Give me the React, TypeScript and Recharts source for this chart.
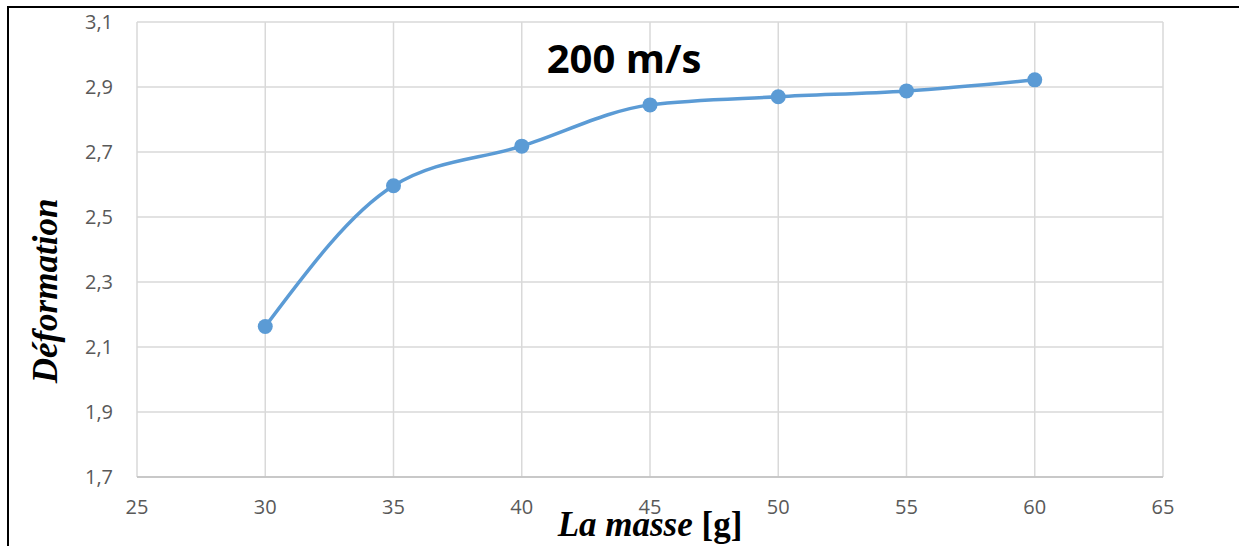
import React from 'react';
import { LineChart, Line, XAxis, YAxis, CartesianGrid } from 'recharts';

const masses = [30, 35, 40, 45, 50, 55, 60];
const deformation = [2.163, 2.596, 2.718, 2.845, 2.87, 2.888, 2.922];
const xTicks = [25, 30, 35, 40, 45, 50, 55, 60, 65];
const yTicks = [1.7, 1.9, 2.1, 2.3, 2.5, 2.7, 2.9, 3.1];
const title = '200 m/s';
const yLabel = 'Déformation';
const xLabelItalic = 'La masse';
const xLabelUnit = '[g]';

const data = masses.map((m, i) => ({ m, d: deformation[i] }));

const fmt = (v: number) => v.toFixed(v % 1 === 0 ? 0 : 1).replace('.', ',');

export default function App() {
  const tickStyle = { fill: '#595959', fontSize: 20, fontFamily: '"Open Sans", sans-serif' };
  return (
    <div style={{ position: 'fixed', left: 0, top: 0, width: 1239, height: 546, background: '#fff', overflow: 'hidden' }}>
      <LineChart width={1239} height={546} data={data} margin={{ top: 22, right: 76, bottom: 29, left: 77 }}>
        <CartesianGrid stroke="#d9d9d9" strokeWidth={1.5} verticalValues={xTicks} horizontalValues={yTicks} />
        <XAxis
          dataKey="m"
          type="number"
          domain={[25, 65]}
          ticks={xTicks}
          height={40}
          tickSize={0}
          tickMargin={23}
          tickLine={false}
          axisLine={{ stroke: '#bfbfbf', strokeWidth: 1.5 }}
          tick={tickStyle}
          tickFormatter={fmt}
          interval={0}
        />
        <YAxis
          type="number"
          domain={[1.7, 3.1]}
          ticks={yTicks}
          width={60}
          tickSize={0}
          tickMargin={24}
          tickLine={false}
          axisLine={false}
          tick={tickStyle}
          tickFormatter={fmt}
          interval={0}
          allowDataOverflow
        />
        <Line
          type="monotone"
          dataKey="d"
          stroke="#5B9BD5"
          strokeWidth={3.5}
          dot={{ r: 7.5, fill: '#5B9BD5', stroke: 'none' }}
          activeDot={false}
          isAnimationActive={false}
        />
      </LineChart>
      <svg width={1239} height={546} style={{ position: 'absolute', left: 0, top: 0, pointerEvents: 'none' }}>
        <text x={624} y={73} textAnchor="middle" fontFamily='"Open Sans", sans-serif' fontWeight="bold" fontSize={40} fill="#000">
          {title}
        </text>
        <text
          x={57}
          y={291}
          textAnchor="middle"
          transform="rotate(-90 57 291)"
          fontFamily='"Liberation Serif", "Times New Roman", serif'
          fontWeight="bold"
          fontStyle="italic"
          fontSize={35}
          fill="#000"
        >
          {yLabel}
        </text>
        <text
          x={650}
          y={536}
          textAnchor="middle"
          fontFamily='"Liberation Serif", "Times New Roman", serif'
          fontWeight="bold"
          fontSize={35}
          fill="#000"
        >
          <tspan fontStyle="italic">{xLabelItalic} </tspan>
          <tspan>{xLabelUnit}</tspan>
        </text>
      </svg>
      <div style={{ position: 'absolute', left: 7, top: 6, width: 2, height: 540, background: '#000' }} />
      <div style={{ position: 'absolute', left: 7, top: 6, width: 1232, height: 2, background: '#000' }} />
    </div>
  );
}
